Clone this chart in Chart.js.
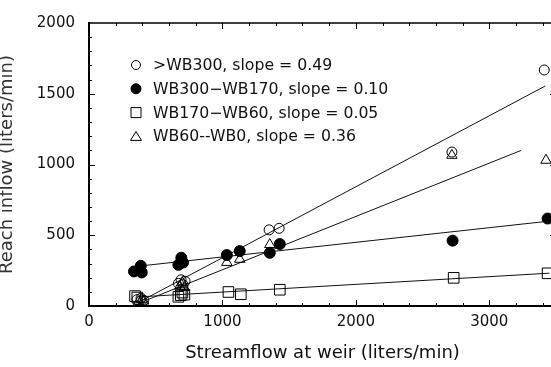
<!DOCTYPE html>
<html>
<head>
<meta charset="utf-8">
<script src="https://cdn.jsdelivr.net/npm/chart.js@4.4.1/dist/chart.umd.min.js"></script>
<style>
  html, body { margin: 0; padding: 0; background: #fff; }
  body { width: 551px; height: 367px; overflow: hidden; }
  #wrap { width: 600px; height: 367px; }
</style>
</head>
<body>
<div id="wrap"><canvas id="chart" width="600" height="367"></canvas></div>
<script>
// series names, as in the legend
const seriesLabels = [">WB300, slope = 0.49", "WB300\u2212WB170, slope = 0.10", "WB170\u2212WB60, slope = 0.05", "WB60--WB0, slope = 0.36"];

// points: [streamflow at weir, reach inflow]
const wb300Pts = [[360, 45], [390, 55], [410, 40], [670, 160], [690, 185], [705, 150], [720, 175], [1350, 538], [1425, 549], [2720, 1088], [3412, 1668]];
const wb300to170Pts = [[337, 244], [388, 284], [395, 237], [670, 291], [692, 341], [705, 307], [1033, 360], [1130, 388], [1355, 376], [1430, 438], [2725, 462], [3437, 618]];
const wb170to60Pts = [[345, 70], [362, 60], [670, 65], [688, 76], [700, 95], [715, 80], [1045, 99], [1138, 83], [1430, 115], [2733, 199], [3437, 231]];
const wb60to0Pts = [[370, 30], [395, 45], [410, 35], [680, 140], [700, 165], [715, 130], [1033, 308], [1130, 330], [1355, 434], [2720, 1065], [3425, 1030]];

// regression lines, end points
const wb300Fit = [[400, 40], [3420, 1555]];
const wb300to170Fit = [[425, 287], [3450, 600]];
const wb170to60Fit = [[370, 64], [3450, 232]];
const wb60to0Fit = [[400, 30], [3240, 1100]];

// axis ticks
const xTicks = [0, 1000, 2000, 3000];
const yTicks = [0, 500, 1000, 1500, 2000];

const FONT = "DejaVu Sans";
const pts = arr => arr.map(p => ({ x: p[0], y: p[1] }));

const styles = [
    { pointStyle: 'circle', radius: 5, fill: 'rgba(0,0,0,0)' },
    { pointStyle: 'circle', radius: 5.5, fill: '#000' },
    { pointStyle: 'rect', radius: 7.5, fill: 'rgba(0,0,0,0)' },
    { pointStyle: 'triangle', radius: 6, fill: 'rgba(0,0,0,0)' }
];
const pointSets = [wb300Pts, wb300to170Pts, wb170to60Pts, wb60to0Pts];
const fitSets = [wb300Fit, wb300to170Fit, wb170to60Fit, wb60to0Fit];

const datasets = [];
pointSets.forEach((set, i) => {
    datasets.push({
        label: seriesLabels[i],
        data: pts(set),
        showLine: false,
        pointStyle: styles[i].pointStyle,
        pointRadius: styles[i].radius,
        pointBackgroundColor: styles[i].fill,
        pointBorderColor: '#000',
        pointBorderWidth: 1
    });
});
fitSets.forEach((set, i) => {
    datasets.push({
        label: 'fit' + i,
        data: pts(set),
        showLine: true,
        borderColor: '#111',
        borderWidth: 1,
        pointRadius: 0
    });
});

// tick marks pointing into the plot on all four sides, plus the frame
const frameTicks = {
    id: 'frameTicks',
    afterDatasetsDraw(chart) {
        const { ctx, chartArea: a, scales: { x, y } } = chart;
        ctx.save();
        ctx.strokeStyle = '#000';
        ctx.lineWidth = 1.5;
        ctx.beginPath();
        ctx.moveTo(a.left, a.top); ctx.lineTo(a.right, a.top); ctx.lineTo(a.right, a.bottom);
        ctx.stroke();
        ctx.lineWidth = 1;
        ctx.beginPath();
        for (let v = 0; v <= 3400; v += 200) {
            const px = Math.round(x.getPixelForValue(v)) + 0.5;
            const len = v % 1000 === 0 ? 6 : 3;
            ctx.moveTo(px, a.bottom); ctx.lineTo(px, a.bottom - len);
            ctx.moveTo(px, a.top); ctx.lineTo(px, a.top + len);
        }
        for (let v = 100; v < 2000; v += 100) {
            const py = Math.round(y.getPixelForValue(v)) + 0.5;
            const len = v % 500 === 0 ? 6 : 3;
            ctx.moveTo(a.left, py); ctx.lineTo(a.left + len, py);
            ctx.moveTo(a.right, py); ctx.lineTo(a.right - len, py);
        }
        ctx.stroke();
        ctx.restore();
    }
};

// legend in the upper left of the plot
const innerLegend = {
    id: 'innerLegend',
    afterDraw(chart) {
        const ctx = chart.ctx;
        ctx.save();
        ctx.font = '15.7px "' + FONT + '"';
        ctx.textBaseline = 'middle';
        ctx.fillStyle = '#111';
        ctx.strokeStyle = '#000';
        ctx.lineWidth = 1;
        for (let i = 0; i < 4; i++) {
            const cy = 65 + i * 23.8;
            const cx = 136;
            ctx.beginPath();
            if (i === 0 || i === 1) {
                ctx.arc(cx, cy, i === 0 ? 4.5 : 5, 0, Math.PI * 2);
                if (i === 1) { ctx.fillStyle = '#000'; ctx.fill(); }
                ctx.stroke();
            } else if (i === 2) {
                ctx.rect(cx - 5, cy - 5, 10, 10);
                ctx.stroke();
            } else {
                ctx.moveTo(cx, cy - 5); ctx.lineTo(cx + 5.5, cy + 4); ctx.lineTo(cx - 5.5, cy + 4); ctx.closePath();
                ctx.stroke();
            }
            ctx.fillStyle = '#111';
            ctx.fillText(chart.data.datasets[i].label, 153, cy + 1);
        }
        ctx.restore();
    }
};

new Chart(document.getElementById('chart'), {
    type: 'scatter',
    data: { datasets },
    options: {
        responsive: false,
        animation: false,
        layout: { padding: { top: 16, right: 44, bottom: 0, left: 0 } },
        plugins: { legend: { display: false }, tooltip: { enabled: false } },
        scales: {
            x: {
                type: 'linear', position: 'bottom', min: 0, max: 3500,
                afterBuildTicks: s => { s.ticks = xTicks.map(v => ({ value: v })); },
                afterFit: s => { s.height = 61; },
                grid: { display: false, drawTicks: false },
                border: { display: true, color: '#000', width: 2 },
                ticks: { color: '#111', padding: 7, font: { family: FONT, size: 15 }, maxRotation: 0, callback: v => String(v) },
                title: { display: true, text: 'Streamflow at weir (liters/min)', color: '#111', font: { family: FONT, size: 18 }, padding: { top: 0, bottom: 3 } }
            },
            y: {
                type: 'linear', min: 0, max: 2000,
                afterBuildTicks: s => { s.ticks = yTicks.map(v => ({ value: v })); },
                afterFit: s => { s.width = 89; },
                grid: { display: false, drawTicks: false },
                border: { display: true, color: '#000', width: 2 },
                ticks: { color: '#111', padding: 14, font: { family: FONT, size: 15 }, callback: v => String(v) },
                title: { display: true, text: 'Reach inflow (liters/min)', color: '#333', font: { family: FONT, size: 18, lineHeight: 0.8 }, padding: { top: 0, bottom: 0 } }
            }
        }
    },
    plugins: [frameTicks, innerLegend]
});
</script>
</body>
</html>
